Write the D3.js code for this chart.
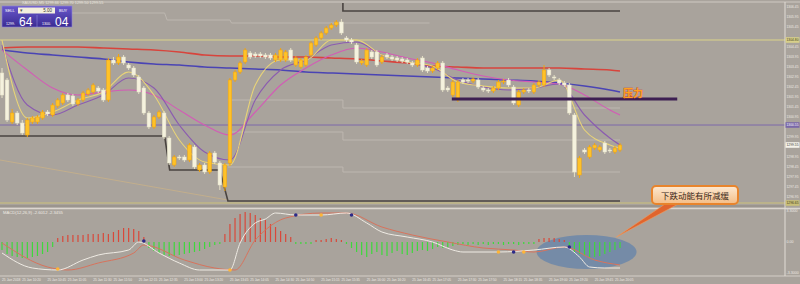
<!DOCTYPE html>
<html>
<head>
<meta charset="utf-8">
<script src="https://cdn.jsdelivr.net/npm/d3@7"></script>
<style>
body { margin: 0; background: #a9a39c; }
svg { display: block; font-family: "Liberation Sans", Arial, sans-serif; }
</style>
</head>
<body>
<svg width="800" height="284"></svg>
<script>
// ---- candles (one per bar, price units) ----
const openP = [1303.15,1302.80,1300.70,1301.15,1300.65,1300.05,1300.70,1300.70,1300.90,1301.20,
1301.05,1301.50,1301.65,1302.05,1302.00,1301.60,1301.80,1302.10,1302.20,1302.40,
1302.30,1301.80,1303.80,1303.65,1303.95,1303.55,1303.40,1302.95,1302.40,1301.15,
1300.45,1300.95,1301.15,1299.90,1298.55,1298.95,1298.95,1298.80,1299.45,1298.30,
1298.55,1298.20,1299.15,1298.65,1297.45,1298.65,1302.80,1303.20,1303.70,1304.15,
1304.10,1304.10,1304.05,1304.05,1303.80,1303.80,1303.80,1304.30,1303.55,1303.45,
1303.55,1304.05,1304.55,1304.90,1305.15,1305.40,1305.55,1305.70,1304.90,1304.80,
1304.55,1303.65,1303.55,1304.20,1304.20,1303.70,1304.05,1303.95,1303.90,1303.85,
1303.80,1303.65,1303.55,1303.90,1303.40,1303.25,1303.40,1303.65,1302.40,1302.05,
1301.80,1302.80,1302.80,1302.75,1302.80,1302.40,1302.30,1302.25,1302.40,1302.70,
1302.80,1302.45,1301.55,1302.20,1302.30,1302.20,1302.55,1302.55,1303.30,1302.95,
1302.80,1302.65,1302.55,1301.05,1298.05,1299.30,1298.95,1299.40,1299.30,1299.65,
1299.30,1299.20,1299.30];
const closeP = [1302.05,1300.80,1301.15,1300.65,1300.15,1300.80,1300.90,1300.95,1301.20,1301.10,
1301.55,1301.80,1302.05,1301.80,1301.60,1301.80,1302.15,1302.30,1302.55,1302.25,
1301.80,1303.80,1303.65,1303.95,1303.65,1303.40,1303.05,1302.20,1301.15,1300.45,
1300.95,1301.20,1299.95,1298.65,1298.95,1298.90,1298.80,1299.55,1298.45,1298.55,
1298.20,1299.15,1298.70,1297.55,1298.55,1302.80,1303.20,1303.65,1304.30,1303.95,
1304.00,1304.00,1303.95,1303.90,1304.05,1304.30,1304.20,1303.80,1303.90,1303.80,
1303.95,1304.65,1304.90,1305.15,1305.40,1305.55,1305.70,1305.15,1304.80,1304.70,
1303.70,1303.75,1304.30,1303.95,1303.55,1303.95,1303.95,1303.85,1303.80,1303.75,
1303.70,1303.55,1303.80,1303.30,1303.25,1303.40,1303.65,1302.30,1302.30,1302.70,
1302.70,1302.70,1302.75,1302.85,1302.45,1302.30,1302.25,1302.40,1302.70,1302.75,
1302.55,1301.65,1302.20,1302.30,1302.25,1302.55,1302.70,1303.30,1303.05,1302.90,
1302.65,1302.55,1301.15,1298.20,1298.90,1299.20,1299.45,1299.55,1299.45,1299.20,
1299.25,1299.40,1299.55];
const highP = [1303.40,1302.90,1301.35,1301.25,1300.80,1300.90,1301.00,1301.05,1301.30,1301.30,
1301.65,1301.90,1302.15,1302.15,1302.10,1301.90,1302.25,1302.40,1302.65,1302.50,
1302.40,1303.90,1303.95,1304.10,1304.05,1303.65,1303.50,1303.05,1302.50,1301.25,
1301.05,1301.30,1301.25,1300.00,1299.05,1299.05,1299.05,1299.65,1299.55,1298.65,
1298.65,1299.25,1299.25,1298.75,1298.65,1302.90,1303.30,1303.75,1304.40,1304.25,
1304.20,1304.20,1304.15,1304.15,1304.15,1304.40,1304.30,1304.40,1304.00,1303.90,
1304.05,1304.75,1305.00,1305.25,1305.50,1305.65,1305.80,1305.85,1305.00,1304.90,
1304.65,1303.85,1304.40,1304.30,1304.30,1304.05,1304.15,1304.05,1304.00,1303.95,
1303.90,1303.75,1303.90,1304.00,1303.50,1303.50,1303.75,1303.75,1302.50,1302.80,
1302.80,1302.90,1302.90,1302.95,1302.90,1302.50,1302.40,1302.50,1302.80,1302.85,
1302.90,1302.55,1302.30,1302.40,1302.40,1302.65,1302.80,1303.55,1303.40,1303.05,
1302.90,1302.75,1302.65,1301.15,1299.00,1299.40,1299.55,1299.65,1299.55,1299.75,
1299.40,1299.50,1299.65];
const lowP = [1301.90,1300.70,1300.60,1300.55,1300.05,1299.95,1300.60,1300.60,1300.80,1301.00,
1300.95,1301.40,1301.55,1301.70,1301.50,1301.50,1301.70,1302.00,1302.10,1302.15,
1301.70,1301.70,1303.55,1303.55,1303.55,1303.30,1302.95,1302.10,1301.05,1300.35,
1300.35,1300.85,1299.85,1298.55,1298.45,1298.80,1298.70,1298.70,1298.35,1298.20,
1298.10,1298.10,1298.60,1297.30,1297.25,1298.50,1302.70,1303.10,1303.60,1303.85,
1303.90,1303.90,1303.85,1303.80,1303.70,1303.70,1303.70,1303.70,1303.45,1303.35,
1303.45,1303.95,1304.45,1304.80,1305.05,1305.30,1305.45,1305.05,1304.70,1304.60,
1303.60,1303.55,1303.45,1303.85,1303.45,1303.60,1303.85,1303.75,1303.70,1303.65,
1303.60,1303.45,1303.45,1303.20,1303.15,1303.15,1303.30,1302.20,1302.20,1301.95,
1301.70,1302.60,1302.65,1302.65,1302.35,1302.20,1302.15,1302.15,1302.30,1302.60,
1302.45,1301.55,1301.45,1302.10,1302.15,1302.10,1302.45,1302.45,1302.95,1302.80,
1302.55,1302.45,1301.05,1297.95,1297.90,1299.10,1298.85,1299.30,1299.20,1299.10,
1299.15,1299.10,1299.20];

// ---- moving averages, read at every 5th bar ----
const maIdx = [0,5,10,15,20,25,30,35,40,45,50,55,60,65,70,75,80,85,90,95,100,105,110,115,120,122];
const maRed = [1304.40,1304.45,1304.45,1304.45,1304.40,1304.35,1304.30,1304.20,1304.05,1304.00,1304.00,1303.95,1303.95,1303.90,1303.85,1303.75,1303.65,1303.50,1303.45,1303.40,1303.40,1303.40,1303.40,1303.35,1303.30,1303.25];
const maBlue = [1304.30,1304.15,1304.05,1303.95,1303.85,1303.70,1303.60,1303.55,1303.45,1303.40,1303.35,1303.30,1303.20,1303.15,1303.10,1303.05,1303.00,1302.95,1302.90,1302.85,1302.80,1302.75,1302.65,1302.50,1302.30,1302.20];
const maMagenta = [1304.30,1303.30,1302.40,1302.05,1302.20,1302.30,1302.05,1301.30,1300.55,1300.05,1301.20,1302.55,1303.40,1304.05,1304.40,1304.20,1303.90,1303.65,1303.30,1303.00,1302.80,1302.70,1302.60,1302.05,1301.30,1301.05];
const maPurple = [1304.55,1301.55,1301.05,1301.55,1302.05,1302.90,1302.40,1300.55,1299.20,1298.80,1301.80,1303.30,1303.80,1304.55,1304.70,1304.05,1303.70,1303.40,1302.80,1302.45,1302.30,1302.40,1302.60,1301.05,1299.90,1299.55];
const maYellow = [1304.80,1300.90,1301.20,1301.80,1302.20,1303.20,1302.05,1299.80,1298.70,1298.55,1302.55,1303.80,1303.80,1304.80,1304.80,1304.05,1303.70,1303.50,1302.70,1302.50,1302.40,1302.40,1302.80,1300.30,1299.55,1299.40];

// ---- channel / level lines [bar, price] ----
const chanUpper = [[67.3,1306.65],[67.3,1306.25],[122,1306.25]];
const chanLower = [[-0.4,1300.00],[32.1,1300.00],[33.1,1298.30],[43,1298.30],[44.6,1296.75],[122,1296.75]];
const chanLightTop = [[11.4,1306.15],[32.1,1306.15],[32.6,1305.80],[45,1305.80],[45.3,1305.65],[84.4,1305.65]];
const chanLightA = [[44.6,1301.80],[67.3,1301.80],[67.3,1301.40],[122,1301.40]];
const chanLightB = [[44.6,1300.20],[67.3,1300.20],[67.3,1299.80],[122,1299.80]];
const chanLightC = [[44.6,1298.45],[67.3,1298.45],[67.3,1298.20],[122,1298.20]];
const trendTan = [[-0.4,1298.80],[44.6,1296.80]];
const levelYellow = 1304.80, levelPurple = 1300.55, levelOlive = 1296.65;
const pressureLevel = 1301.85, pressureFrom = 88.8, pressureTo = 133.3;

// ---- MACD panel ----
const histVal = [-0.8,-1.2,-1.4,-1.5,-1.6,-1.6,-1.5,-1.4,-1.2,-1.0,
-0.5,0.4,0.6,0.7,0.7,0.7,0.7,0.8,0.8,0.8,
0.9,0.8,1.0,1.2,1.4,1.4,1.3,1.1,0.5,-0.6,
-0.9,-1.1,-1.3,-1.4,-1.4,-1.3,-1.2,-1.1,-1.0,-0.9,
-0.7,-0.5,-0.3,-0.2,0.8,1.8,2.4,2.8,3.0,2.9,
2.7,2.4,2.2,1.8,1.5,1.1,0.8,0.5,-0.2,-0.2,
-0.2,-0.2,0.2,0.2,0.3,0.4,0.3,0.2,-0.2,-0.6,
-1.0,-1.3,-1.5,-1.2,-1.0,-1.3,-1.4,-1.1,-0.9,-1.2,
-1.3,-1.1,-0.9,-0.8,-0.9,-0.7,-0.5,-0.6,-0.5,-0.4,
-0.3,-0.2,-0.3,-0.2,-0.3,-0.2,-0.3,-0.2,-0.2,-0.3,
-0.2,-0.2,-0.3,-0.2,-0.2,-0.2,0.3,0.4,0.4,0.4,
0.3,0.2,-0.6,-1.0,-1.2,-1.4,-1.5,-1.5,-1.4,-1.2,
-1.0,-0.8,-0.6];
const macdIdx = [0,6,11,16,19,25,27,31,35,39,45,47,50,52,54,58,63,68,72,75,80,85,89,91,98,105,111,114,116,119,122];
const macdVal = [-1.1,-2.6,-2.8,-1.8,-1.3,-0.8,0.0,-1.1,-2.1,-2.8,-2.8,-0.1,1.9,2.3,2.9,2.7,2.7,2.9,1.9,1.0,0.5,0.0,-0.8,-1.0,-1.0,-0.8,-0.5,-1.5,-2.5,-2.6,-2.6];
const sigIdx = [0,9,13,19,26,28,36,42,46,50,52,56,63,68,75,81,88,95,101,105,111,117,122];
const sigVal = [-0.1,-2.5,-2.8,-2.1,-1.1,-0.3,-1.8,-2.6,-2.8,0.2,1.2,2.4,2.9,2.9,1.5,0.7,0.0,-0.6,-0.8,-1.0,-0.5,-1.8,-2.3];
const dotIdx = [11,28,45,58,63,69,98,101,103,112];
const dotVal = [-2.7,0.1,-2.8,2.7,2.7,2.7,-1.0,-1.0,-1.0,-0.5];
const dotType = ["up","dn","up","dn","up","dn","up","dn","up","dn"];

// ---- axis labels ----
const priceTicks = ["1306.45","1305.95","1305.45","1304.95","1304.45","1303.95","1303.45","1302.95","1302.45","1301.95",
"1301.45","1300.95","1300.45","1299.95","1299.45","1298.95","1298.45","1297.95","1297.45","1296.95"];
const macdTicks = ["3.3000","0.00","-3.3000"];
const timeIdx = [0,4,9,13,18,22,27,31,36,40,45,49,54,58,63,67,72,76,81,85,90,94,99,103,108,112,117,121];
const timeLabels = ["25 Jan 2018","25 Jan 10:20","25 Jan 10:45","25 Jan 11:05","25 Jan 11:30","25 Jan 11:50","25 Jan 12:15",
"25 Jan 12:35","25 Jan 13:00","25 Jan 13:20","25 Jan 13:45","25 Jan 14:05","25 Jan 14:30","25 Jan 14:50",
"25 Jan 15:15","25 Jan 15:35","25 Jan 16:00","25 Jan 16:20","25 Jan 16:45","25 Jan 17:05","25 Jan 17:30",
"25 Jan 17:50","25 Jan 18:15","25 Jan 18:35","25 Jan 19:00","25 Jan 19:20","25 Jan 19:45","25 Jan 20:05"];

const svg = d3.select("svg");
const x = d3.scaleLinear().domain([0, 122]).range([2, 620]);
const y = d3.scaleLinear().domain([1296.55, 1306.65]).range([205, 3]);
const ym = d3.scaleLinear().domain([-3.3, 3.3]).range([275, 209]);
const axisX = 785;

svg.append("rect").attr("width", 800).attr("height", 284).attr("fill", "#a9a39c");

/* clip for the price panel */
svg.append("clipPath").attr("id", "mainClip")
	.append("rect").attr("x", 0).attr("y", 3).attr("width", axisX).attr("height", 202);
const main = svg.append("g").attr("clip-path", "url(#mainClip)");

var stepLine = d3.line().x(d => x(d[0])).y(d => y(d[1]));

/* faint channel steps */
[chanLightTop, chanLightA, chanLightB, chanLightC].forEach(function(pts) {
	main.append("path").attr("d", stepLine(pts))
		.attr("fill", "none").attr("stroke", "#bdb7b0").attr("stroke-width", 1);
});
main.append("path").attr("d", stepLine(trendTan))
	.attr("fill", "none").attr("stroke", "#c2ae8c").attr("stroke-width", 1);

/* full width levels */
[[levelYellow, "#dcd488"], [levelPurple, "#7c68aa"], [levelOlive, "#cdc27a"]].forEach(function(l) {
	main.append("line").attr("x1", 0).attr("x2", axisX)
		.attr("y1", y(l[0])).attr("y2", y(l[0]))
		.attr("stroke", l[1]).attr("stroke-width", 1);
});

/* dark channel */
[chanUpper, chanLower].forEach(function(pts) {
	main.append("path").attr("d", stepLine(pts))
		.attr("fill", "none").attr("stroke", "#4a4440").attr("stroke-width", 1.6);
});

/* moving averages */
var maLine = d3.line().x((d, i) => x(maIdx[i])).y(d => y(d)).curve(d3.curveMonotoneX);
[[maRed, "#d8443c", 1.6], [maBlue, "#4a44b4", 1.6], [maMagenta, "#d35bb6", 1.1],
 [maPurple, "#8b5cb0", 1.1], [maYellow, "#e9d477", 1.1]].forEach(function(m) {
	main.append("path").attr("d", maLine(m[0]))
		.attr("fill", "none").attr("stroke", m[1]).attr("stroke-width", m[2]);
});

/* candles */
const bodyW = 3.6;
const candles = main.append("g");
openP.forEach(function(o, i) {
	var c = closeP[i];
	var up = c >= o;
	var edge = up ? "#f0a412" : "#e6e1c8";
	var fill = up ? "#ffc227" : "#f5f2de";
	candles.append("line")
		.attr("x1", x(i)).attr("x2", x(i))
		.attr("y1", y(highP[i])).attr("y2", y(lowP[i]))
		.attr("stroke", edge).attr("stroke-width", 1);
	candles.append("rect")
		.attr("x", x(i) - bodyW / 2)
		.attr("y", y(Math.max(o, c)))
		.attr("width", bodyW)
		.attr("height", Math.max(1, Math.abs(y(o) - y(c))))
		.attr("fill", fill).attr("stroke", edge).attr("stroke-width", 0.5);
});

/* pressure line + label */
main.append("line")
	.attr("x1", x(pressureFrom)).attr("x2", x(pressureTo))
	.attr("y1", y(pressureLevel)).attr("y2", y(pressureLevel))
	.attr("stroke", "#3d1f52").attr("stroke-width", 3);
svg.append("text")
	.attr("x", x(122.6)).attr("y", y(pressureLevel) - 2)
	.attr("font-family", "Noto Sans CJK SC").attr("font-size", 10).attr("font-weight", "bold")
	.attr("fill", "#ffa21c").attr("stroke", "#c8402a").attr("stroke-width", 0.6)
	.attr("paint-order", "stroke")
	.text("压力");

/* panel borders */
svg.append("line").attr("x1", 0).attr("x2", 800).attr("y1", 2).attr("y2", 2).attr("stroke", "#cfc9c2");
svg.append("line").attr("x1", 0).attr("x2", axisX).attr("y1", 206).attr("y2", 206).attr("stroke", "#8d8781");
svg.append("line").attr("x1", 0).attr("x2", 800).attr("y1", 208.5).attr("y2", 208.5).attr("stroke", "#dcd6cf").attr("stroke-width", 1.5);
svg.append("line").attr("x1", 0).attr("x2", 800).attr("y1", 276).attr("y2", 276).attr("stroke", "#d4cec7");
svg.append("line").attr("x1", axisX).attr("x2", axisX).attr("y1", 2).attr("y2", 276).attr("stroke", "#e2ddd6");

/* price axis: the level boxes cover the ticks they sit on */
const tickFont = 3.6;
const boxes = [[levelYellow, "#d8d08a", "#403a20"], [levelPurple, "#7a68a8", "#ffffff"],
 [closeP[closeP.length - 1], "#f6f3ea", "#333333"], [levelOlive, "#c9bf78", "#403a20"]];
const freeTicks = priceTicks.filter(t => boxes.every(b => Math.abs(y(+t) - y(b[0])) > 5.5));
svg.append("g").selectAll("text").data(freeTicks).join("text")
	.attr("x", axisX + 1.5).attr("y", d => y(+d) + 1.3)
	.attr("font-size", tickFont).attr("fill", "#eeeae4")
	.attr("textLength", 12).attr("lengthAdjust", "spacingAndGlyphs")
	.text(d => d);
boxes.forEach(function(b) {
	svg.append("rect").attr("x", axisX + 0.5).attr("y", y(b[0]) - 2.8).attr("width", 14).attr("height", 5.6).attr("fill", b[1]);
	svg.append("text").attr("x", axisX + 1.5).attr("y", y(b[0]) + 1.3)
		.attr("font-size", tickFont).attr("fill", b[2])
		.attr("textLength", 12).attr("lengthAdjust", "spacingAndGlyphs")
		.text(b[0].toFixed(2));
});

/* MACD panel */
const ellCx = x(115.4), ellCy = ym(-1.0);
svg.append("ellipse").attr("cx", ellCx).attr("cy", ellCy).attr("rx", 50).attr("ry", 17)
	.attr("fill", "#4a78b0").attr("opacity", 0.55);

svg.append("g").selectAll("line").data(histVal).join("line")
	.attr("x1", (d, i) => x(i)).attr("x2", (d, i) => x(i))
	.attr("y1", ym(0)).attr("y2", d => ym(d))
	.attr("stroke", d => d >= 0 ? "#d9483a" : "#3ed83c").attr("stroke-width", 1.2);

var macdLine = d3.line().x((d, i) => x(macdIdx[i])).y(d => ym(d)).curve(d3.curveMonotoneX);
var sigLine = d3.line().x((d, i) => x(sigIdx[i])).y(d => ym(d)).curve(d3.curveMonotoneX);
svg.append("path").attr("d", sigLine(sigVal)).attr("fill", "none").attr("stroke", "#d8735c").attr("stroke-width", 1);
svg.append("path").attr("d", macdLine(macdVal)).attr("fill", "none").attr("stroke", "#efebe4").attr("stroke-width", 1);

svg.append("g").selectAll("circle").data(dotIdx).join("circle")
	.attr("cx", d => x(d)).attr("cy", (d, i) => ym(dotVal[i])).attr("r", 1.8)
	.attr("fill", (d, i) => dotType[i] == "up" ? "#ffb536" : "#2c2a88");

svg.append("text").attr("x", 3).attr("y", 213.5).attr("font-size", 4.2).attr("fill", "#efebe4")
	.text("MACD(12,26,9) -2.6012 -2.3455");
svg.append("g").selectAll("text").data(macdTicks).join("text")
	.attr("x", axisX + 1.5).attr("y", d => Math.min(274, Math.max(212, ym(+d) + 1.3)))
	.attr("font-size", tickFont).attr("fill", "#eeeae4").text(d => d);

/* time axis */
svg.append("g").selectAll("text").data(timeLabels).join("text")
	.attr("x", (d, i) => x(timeIdx[i])).attr("y", 280.5)
	.attr("font-size", 3.5).attr("fill", "#eeeae4")
	.attr("textLength", 18.5).attr("lengthAdjust", "spacingAndGlyphs")
	.text(d => d);

/* callout */
const tip = [x(121.3), ym(0.5)];
svg.append("path")
	.attr("d", `M668,202 L682,202 L${tip[0]},${tip[1]} Z`)
	.attr("fill", "#e0652e").attr("stroke", "#f29a5c").attr("stroke-width", 0.6);
const grad = svg.append("defs").append("linearGradient").attr("id", "callFill")
	.attr("x1", 0).attr("y1", 0).attr("x2", 0).attr("y2", 1);
grad.append("stop").attr("offset", 0).attr("stop-color", "#fde9d2");
grad.append("stop").attr("offset", 1).attr("stop-color", "#f4bd86");
svg.append("rect").attr("x", 652).attr("y", 186).attr("width", 86).attr("height", 18).attr("rx", 4)
	.attr("fill", "url(#callFill)").attr("stroke", "#e8842c").attr("stroke-width", 2);
svg.append("text").attr("x", 695).attr("y", 198.5).attr("text-anchor", "middle")
	.attr("font-family", "Noto Sans CJK SC").attr("font-size", 8.5).attr("fill", "#3b2a1c")
	.text("下跌动能有所减缓");

/* trade panel (top-left) */
const pg = svg.append("defs").append("linearGradient").attr("id", "panelFill")
	.attr("x1", 0).attr("y1", 0).attr("x2", 0).attr("y2", 1);
pg.append("stop").attr("offset", 0).attr("stop-color", "#6a58cc");
pg.append("stop").attr("offset", 1).attr("stop-color", "#3a2b92");
svg.append("text").attr("x", 22).attr("y", 4).attr("font-size", 3.8).attr("fill", "#e8e4de")
	.text("XAUUSD,M5  1299.66 1299.70 1299.50 1299.55");
svg.append("rect").attr("x", 2).attr("y", 6).attr("width", 70).attr("height", 21)
	.attr("fill", "url(#panelFill)").attr("stroke", "#8f86d8").attr("stroke-width", 0.6);
svg.append("line").attr("x1", 37).attr("x2", 37).attr("y1", 15).attr("y2", 27).attr("stroke", "#8f86d8").attr("stroke-width", 0.6);
svg.append("rect").attr("x", 18).attr("y", 7.5).attr("width", 37).attr("height", 6).attr("fill", "#f4efdd");
svg.append("text").attr("x", 20).attr("y", 12).attr("font-size", 4.5).attr("fill", "#555").text("▾");
svg.append("text").attr("x", 52).attr("y", 12).attr("text-anchor", "end").attr("font-size", 4.5).attr("fill", "#333").text("5.00");
svg.append("text").attr("x", 5).attr("y", 12).attr("font-size", 4).attr("fill", "#ffffff").text("SELL");
svg.append("text").attr("x", 59).attr("y", 12).attr("font-size", 4).attr("fill", "#ffffff").text("BUY");
svg.append("text").attr("x", 6).attr("y", 24.5).attr("font-size", 3.6).attr("fill", "#ffffff").text("1299.");
svg.append("text").attr("x", 19).attr("y", 25.5).attr("font-size", 12).attr("fill", "#ffffff").text("64");
svg.append("text").attr("x", 42).attr("y", 24.5).attr("font-size", 3.6).attr("fill", "#ffffff").text("1300.");
svg.append("text").attr("x", 55).attr("y", 25.5).attr("font-size", 12).attr("fill", "#ffffff").text("04");
</script>
</body>
</html>
